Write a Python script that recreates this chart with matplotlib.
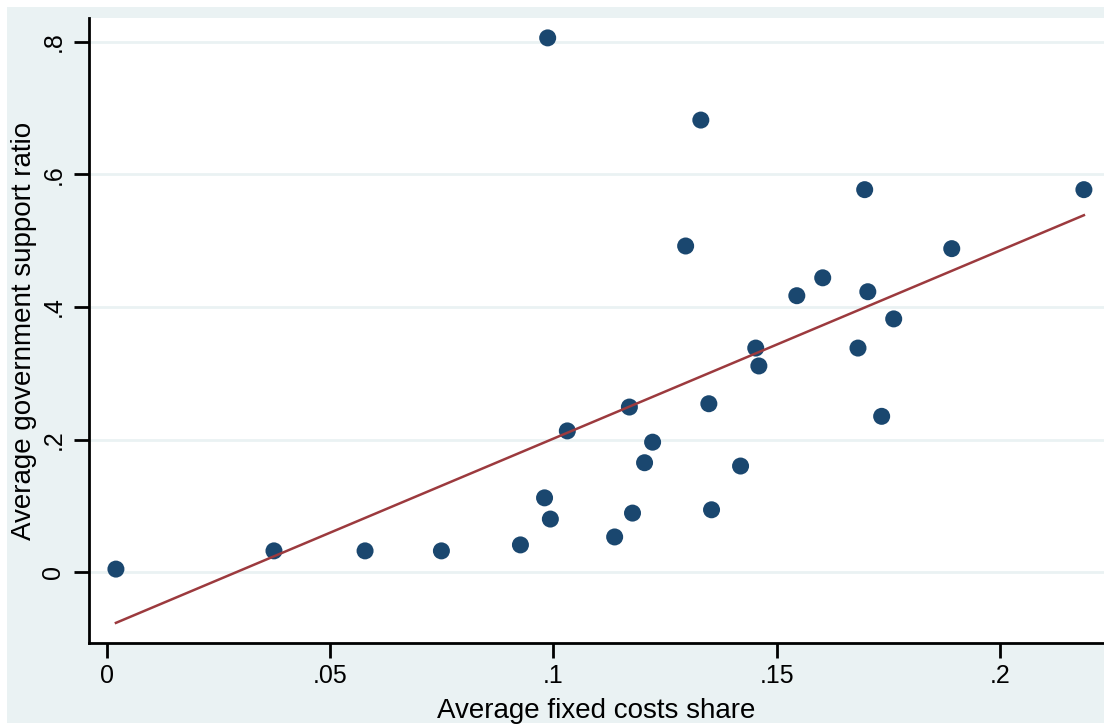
import numpy as np
import matplotlib.pyplot as plt
from matplotlib.patches import Rectangle

plt.rcParams['font.family'] = ['Liberation Sans', 'DejaVu Sans']

# Average fixed costs share vs. average government support ratio
fixed_costs = [0.002, 0.0374, 0.0578, 0.0749, 0.0926, 0.098, 0.0993, 0.0987,
               0.1031, 0.1137, 0.117, 0.1177, 0.1204, 0.1222, 0.1296, 0.133,
               0.1348, 0.1354, 0.1419, 0.1453, 0.146, 0.1545, 0.1603, 0.1682,
               0.1697, 0.1704, 0.1735, 0.1762, 0.1892, 0.2188]
gov_support = [0.0045, 0.032, 0.032, 0.032, 0.041, 0.112, 0.080, 0.806,
               0.213, 0.053, 0.249, 0.089, 0.165, 0.196, 0.492, 0.682,
               0.254, 0.094, 0.160, 0.338, 0.311, 0.417, 0.444, 0.338,
               0.577, 0.423, 0.235, 0.382, 0.488, 0.577]

x_ticks = [0, 0.05, 0.1, 0.15, 0.2]
x_tick_labels = ['0', '.05', '.1', '.15', '.2']
y_ticks = [0, 0.2, 0.4, 0.6, 0.8]
y_tick_labels = ['0', '.2', '.4', '.6', '.8']

W, H = 1104, 724
fig = plt.figure(figsize=(W / 100, H / 100), dpi=100, facecolor='white')
# Stata-style light graph region, kept behind the axes
fig.patches.append(Rectangle((7 / W, 1 / H), 1 - 7 / W, 1 - 8 / H,
                             transform=fig.transFigure, facecolor='#EAF2F3',
                             edgecolor='none', zorder=-10))

ax = fig.add_axes([89 / W, (H - 643) / H, 1 - 89 / W, (643 - 18) / H])
ax.set_facecolor('white')

x = np.array(fixed_costs)
y = np.array(gov_support)
slope, intercept = np.polyfit(x, y, 1)
xs = np.array([x.min(), x.max()])

ax.scatter(x, y, s=150, color='#1A476F', edgecolors='none', zorder=3)
ax.plot(xs, intercept + slope * xs, color='#9C3A3E', linewidth=1.8, zorder=4)

ax.set_xlim(-0.00403, 0.2233)
ax.set_ylim(-0.107, 0.836)

ax.set_xticks(x_ticks)
ax.set_xticklabels(x_tick_labels)
ax.set_yticks(y_ticks)
ax.set_yticklabels(y_tick_labels, rotation=90, va='center')

for v in y_ticks:
    ax.axhline(v, color='#EAF2F3', linewidth=2, zorder=1)

for side in ['top', 'right']:
    ax.spines[side].set_visible(False)
for side in ['left', 'bottom']:
    ax.spines[side].set_linewidth(2)
    ax.spines[side].set_color('black')

ax.tick_params(axis='both', length=11, width=2, labelsize=18, colors='black')
ax.tick_params(axis='x', pad=4)
ax.tick_params(axis='y', pad=6)

ax.set_xlabel('Average fixed costs share', fontsize=20, labelpad=7)
ax.set_ylabel('Average government support ratio', fontsize=20, labelpad=3.5)

fig.savefig('out.png', dpi=100)
